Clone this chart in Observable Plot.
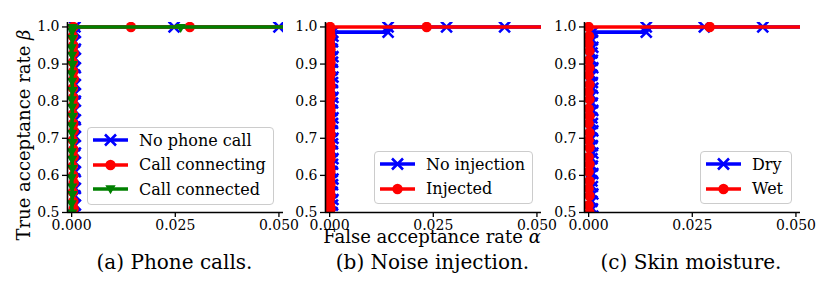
<!DOCTYPE html>
<html>
<head>
<meta charset="utf-8">
<script src="https://cdn.jsdelivr.net/npm/d3@7"></script>
<script src="https://cdn.jsdelivr.net/npm/@observablehq/plot@0.6"></script>
<style>
  body { margin: 0; background: #fff; }
  #wrap { position: relative; width: 830px; height: 288px; font-family: "DejaVu Serif", serif; color: #000; overflow: hidden; }
  #wrap svg text { font-family: "DejaVu Serif", serif !important; }
  .lab { position: absolute; font-family: "DejaVu Serif", serif; font-size: 18px; white-space: nowrap; line-height: 1; }
  .lab.cap { font-size: 20px; }
  .legend { position: absolute; box-sizing: border-box; border: 1px solid #cccccc; border-radius: 4px;
            background: rgba(255,255,255,0.85); font-size: 16px; padding: 0 0 2px 5px;
            font-family: "DejaVu Serif", serif; }
  .legend span { white-space: nowrap; }
  .legend .row { display: flex; align-items: center; height: 24.5px; }
  .legend svg { display: block; margin-right: 11px; overflow: visible; flex: none; }
</style>
</head>
<body>
<div id="wrap"></div>
<script>
// ---------- data ----------
const xDomain = [-0.001, 0.0511];
const yDomain = [0.5, 1.012];
const xTicks = [0, 0.025, 0.05];
const yTicks = [0.5, 0.6, 0.7, 0.8, 0.9, 1.0];

const panelTitles = ["(a) Phone calls.", "(b) Noise injection.", "(c) Skin moisture."];
const xLabel = "False acceptance rate ";
const yLabel = "True acceptance rate ";

// (a) Phone calls
const aNames = ["No phone call", "Call connecting", "Call connected"];
const aNoCallFar = [0.0008,0.0009,0.0007,0.0009,0.0008,0.0009,0.0007,0.0009,0.0008,0.0009,0.0007,0.0009,0.0008,0.0009,0.0007,0.0009,0.0008,0.0009,0.0007,0.0009,0.0008,0.0009,0.0007,0.0009,0.0008,0.0247,0.0500,1.0];
const aNoCallTar = [0.40,0.47,0.495,0.52,0.545,0.565,0.59,0.61,0.635,0.66,0.68,0.705,0.73,0.75,0.775,0.80,0.82,0.845,0.87,0.89,0.915,0.94,0.96,0.985,1.0,1.0,1.0,1.0];
const aConnectingFar = [0.0004,0.0003,0.0005,0.0004,0.0003,0.0005,0.0004,0.0003,0.0005,0.0004,0.0003,0.0005,0.0004,0.0003,0.0005,0.0004,0.0003,0.0005,0.0004,0.0003,0.0005,0.0004,0.0003,0.0004,0.0143,0.0285,1.0];
const aConnectingTar = [0.42,0.485,0.51,0.53,0.555,0.58,0.60,0.625,0.65,0.67,0.695,0.72,0.74,0.765,0.79,0.81,0.835,0.86,0.88,0.905,0.93,0.95,0.975,1.0,1.0,1.0,1.0];
const aConnectedFar = [0.0001,0.0002,0.0001,0.0000,0.0002,0.0001,0.0000,0.0002,0.0001,0.0000,0.0002,0.0001,0.0000,0.0002,0.0001,0.0000,0.0002,0.0001,0.0000,0.0002,0.0001,0.0000,0.0002,0.0001,0.0001,0.0263,1.0];
const aConnectedTar = [0.41,0.475,0.50,0.525,0.55,0.57,0.595,0.62,0.645,0.665,0.69,0.715,0.735,0.76,0.785,0.805,0.83,0.855,0.875,0.90,0.925,0.945,0.97,0.99,1.0,1.0,1.0];

// (b) Noise injection
const bNames = ["No injection", "Injected"];
const bNoInjFar = [0.0006,0.0008,0.0006,0.0007,0.0008,0.0006,0.0007,0.0008,0.0006,0.0007,0.0008,0.0006,0.0007,0.0008,0.0006,0.0007,0.0008,0.0006,0.0007,0.0008,0.0006,0.0007,0.0008,0.0006,0.0007,0.0008,0.0006,0.0007,0.0008,0.0007,0.0141,0.0141,0.0282,0.0422,1.0];
const bNoInjTar = [0.42,0.48,0.50,0.52,0.535,0.555,0.575,0.59,0.61,0.63,0.645,0.665,0.685,0.70,0.72,0.74,0.755,0.775,0.795,0.81,0.83,0.85,0.865,0.885,0.905,0.92,0.94,0.96,0.975,0.986,0.986,1.0,1.0,1.0,1.0];
const bInjFar = [0.0001,0.0000,0.0002,0.0001,0.0000,0.0002,0.0001,0.0000,0.0002,0.0001,0.0000,0.0002,0.0001,0.0000,0.0002,0.0001,0.0000,0.0002,0.0001,0.0000,0.0002,0.0001,0.0000,0.0002,0.0001,0.0000,0.0002,0.0001,0.0000,0.0002,0.0001,0.0000,0.0002,0.0001,0.0000,0.0002,0.0001,0.0000,0.0002,0.0001,0.0000,0.0002,0.0001,0.0000,0.0002,0.0001,0.0000,0.0002,0.0001,0.0001,0.0001,0.0234,1.0];
const bInjTar = [0.40,0.47,0.48,0.49,0.50,0.51,0.52,0.535,0.545,0.555,0.565,0.575,0.59,0.60,0.61,0.62,0.63,0.645,0.655,0.665,0.675,0.685,0.70,0.71,0.72,0.73,0.74,0.755,0.765,0.775,0.785,0.795,0.81,0.82,0.83,0.84,0.85,0.865,0.875,0.885,0.895,0.905,0.92,0.93,0.94,0.95,0.96,0.975,0.985,0.993,1.0,1.0,1.0];

// (c) Skin moisture
const cNames = ["Dry", "Wet"];
const cDryFar = [0.0009,0.0008,0.0010,0.0009,0.0008,0.0010,0.0009,0.0008,0.0010,0.0009,0.0008,0.0010,0.0009,0.0008,0.0010,0.0009,0.0008,0.0010,0.0009,0.0008,0.0010,0.0009,0.0008,0.0010,0.0009,0.0008,0.0010,0.0009,0.0009,0.0139,0.0139,0.0279,0.0420,1.0];
const cDryTar = [0.41,0.47,0.49,0.51,0.53,0.55,0.57,0.585,0.605,0.625,0.645,0.66,0.68,0.70,0.72,0.74,0.755,0.775,0.795,0.815,0.835,0.85,0.87,0.89,0.91,0.93,0.945,0.965,0.986,0.986,1.0,1.0,1.0,1.0];
const cWetFar = [0.0001,0.0000,0.0002,0.0000,0.0002,0.0000,0.0002,0.0000,0.0002,0.0000,0.0002,0.0000,0.0002,0.0000,0.0002,0.0000,0.0002,0.0000,0.0002,0.0000,0.0002,0.0000,0.0002,0.0000,0.0001,0.0000,0.0292,1.0];
const cWetTar = [0.41,0.48,0.50,0.52,0.545,0.565,0.585,0.61,0.63,0.65,0.675,0.695,0.715,0.74,0.76,0.78,0.805,0.825,0.845,0.87,0.89,0.91,0.935,0.955,0.975,1.0,1.0,1.0];

const colBlue = "#0000ff", colRed = "#ff0000", colGreen = "#008000";
const serif = "'DejaVu Serif', serif";

// ---------- helpers ----------
const rows = (far, tar) => far.map((x, i) => ({x, y: tar[i]}));
const triDown = {
  draw(ctx, size) {
    const y = Math.sqrt(size / (3 * Math.sqrt(3)));
    ctx.moveTo(0, 2 * y);
    ctx.lineTo(-Math.sqrt(3) * y, -y);
    ctx.lineTo(Math.sqrt(3) * y, -y);
    ctx.closePath();
  }
};
const styleX = {symbol: "times", r: 5, fill: "none", strokeWidth: 2.6};
const styleO = {symbol: "circle", r: 5.2, strokeWidth: 0};
const styleV = {symbol: triDown, r: 3.9, strokeWidth: 0};

const wrap = document.getElementById("wrap");

function panel(ml, mr, series) {
  const marks = [];
  for (const s of series) {
    marks.push(Plot.line(s.data, {x: "x", y: "y", stroke: s.color, strokeWidth: 3.6, clip: true}));
    const st = s.st;
    marks.push(Plot.dot(s.data, {
      x: "x", y: "y", symbol: st.symbol, r: st.r,
      fill: st.fill === "none" ? "none" : s.color,
      stroke: st.fill === "none" ? s.color : "none",
      strokeWidth: st.strokeWidth, clip: true
    }));
  }
  marks.push(Plot.ruleX([xDomain[0]], {stroke: "#000", strokeWidth: 1.6}));
  marks.push(Plot.ruleY([yDomain[0]], {stroke: "#000", strokeWidth: 1.6}));
  marks.push(Plot.axisX({ticks: xTicks, tickFormat: d3.format(".3f"), tickSize: 5, tickPadding: 3, strokeWidth: 1.3, label: null, fontSize: 14, fontFamily: serif}));
  marks.push(Plot.axisY({ticks: yTicks, tickFormat: d3.format(".1f"), tickSize: 5, tickPadding: 3, strokeWidth: 1.3, label: null, fontSize: 14, fontFamily: serif}));
  const svg = Plot.plot({
    width: 830, height: 288,
    marginLeft: ml, marginRight: mr, marginTop: 22, marginBottom: 76,
    x: {domain: xDomain, label: null},
    y: {domain: yDomain, label: null},
    style: {position: "absolute", left: "0px", top: "0px", background: "transparent", overflow: "visible",
            fontFamily: serif, fontSize: "14px", color: "#000"},
    marks
  });
  wrap.appendChild(svg);
}

panel(67, 830 - 283, [
  {data: rows(aNoCallFar, aNoCallTar), color: colBlue, st: styleX},
  {data: rows(aConnectingFar, aConnectingTar), color: colRed, st: styleO},
  {data: rows(aConnectedFar, aConnectedTar), color: colGreen, st: styleV}
]);
panel(325, 830 - 541, [
  {data: rows(bNoInjFar, bNoInjTar), color: colBlue, st: styleX},
  {data: rows(bInjFar, bInjTar), color: colRed, st: styleO}
]);
panel(584, 830 - 800, [
  {data: rows(cDryFar, cDryTar), color: colBlue, st: styleX},
  {data: rows(cWetFar, cWetTar), color: colRed, st: styleO}
]);

// ---------- legends ----------
function swatch(color, kind) {
  const ns = "http://www.w3.org/2000/svg";
  const svg = document.createElementNS(ns, "svg");
  svg.setAttribute("width", 35); svg.setAttribute("height", 20);
  const line = document.createElementNS(ns, "line");
  line.setAttribute("x1", 0); line.setAttribute("x2", 35); line.setAttribute("y1", 10); line.setAttribute("y2", 10);
  line.setAttribute("stroke", color); line.setAttribute("stroke-width", 3.6);
  svg.appendChild(line);
  const p = document.createElementNS(ns, "path");
  if (kind === "x") {
    p.setAttribute("d", "M12,4.5L23,15.5M12,15.5L23,4.5");
    p.setAttribute("stroke", color); p.setAttribute("stroke-width", 2.6); p.setAttribute("fill", "none");
  } else if (kind === "o") {
    p.setAttribute("d", "M22.7,10A5.2,5.2 0 1 1 12.3,10A5.2,5.2 0 1 1 22.7,10Z");
    p.setAttribute("fill", color);
  } else {
    p.setAttribute("d", "M17.5,15.2L12.3,6.2L22.7,6.2Z");
    p.setAttribute("fill", color);
  }
  svg.appendChild(p);
  return svg;
}
function legend(left, top, width, items) {
  const d = document.createElement("div");
  d.className = "legend";
  d.style.left = left + "px"; d.style.top = top + "px"; d.style.width = width + "px";
  for (const [name, color, kind] of items) {
    const r = document.createElement("div");
    r.className = "row";
    r.appendChild(swatch(color, kind));
    const t = document.createElement("span");
    t.textContent = name;
    r.appendChild(t);
    d.appendChild(r);
  }
  wrap.appendChild(d);
}
legend(87, 127, 187, [[aNames[0], colBlue, "x"], [aNames[1], colRed, "o"], [aNames[2], colGreen, "v"]]);
legend(374, 151, 159, [[bNames[0], colBlue, "x"], [bNames[1], colRed, "o"]]);
legend(700, 151, 92, [[cNames[0], colBlue, "x"], [cNames[1], colRed, "o"]]);

// ---------- labels ----------
function label(html, cx, cy, rotate, cls) {
  const d = document.createElement("div");
  d.className = "lab" + (cls ? " " + cls : "");
  d.innerHTML = html;
  d.style.left = cx + "px"; d.style.top = cy + "px";
  d.style.transform = "translate(-50%,-50%)" + (rotate ? " rotate(-90deg)" : "");
  wrap.appendChild(d);
}
label(yLabel + "<i>β</i>", 23.5, 135, true);
label(xLabel + "<i>α</i>", 432, 236.5, false);
label(panelTitles[0], 174.5, 261.5, false, "cap");
label(panelTitles[1], 432.5, 261.5, false, "cap");
label(panelTitles[2], 691, 261.5, false, "cap");
</script>
</body>
</html>
